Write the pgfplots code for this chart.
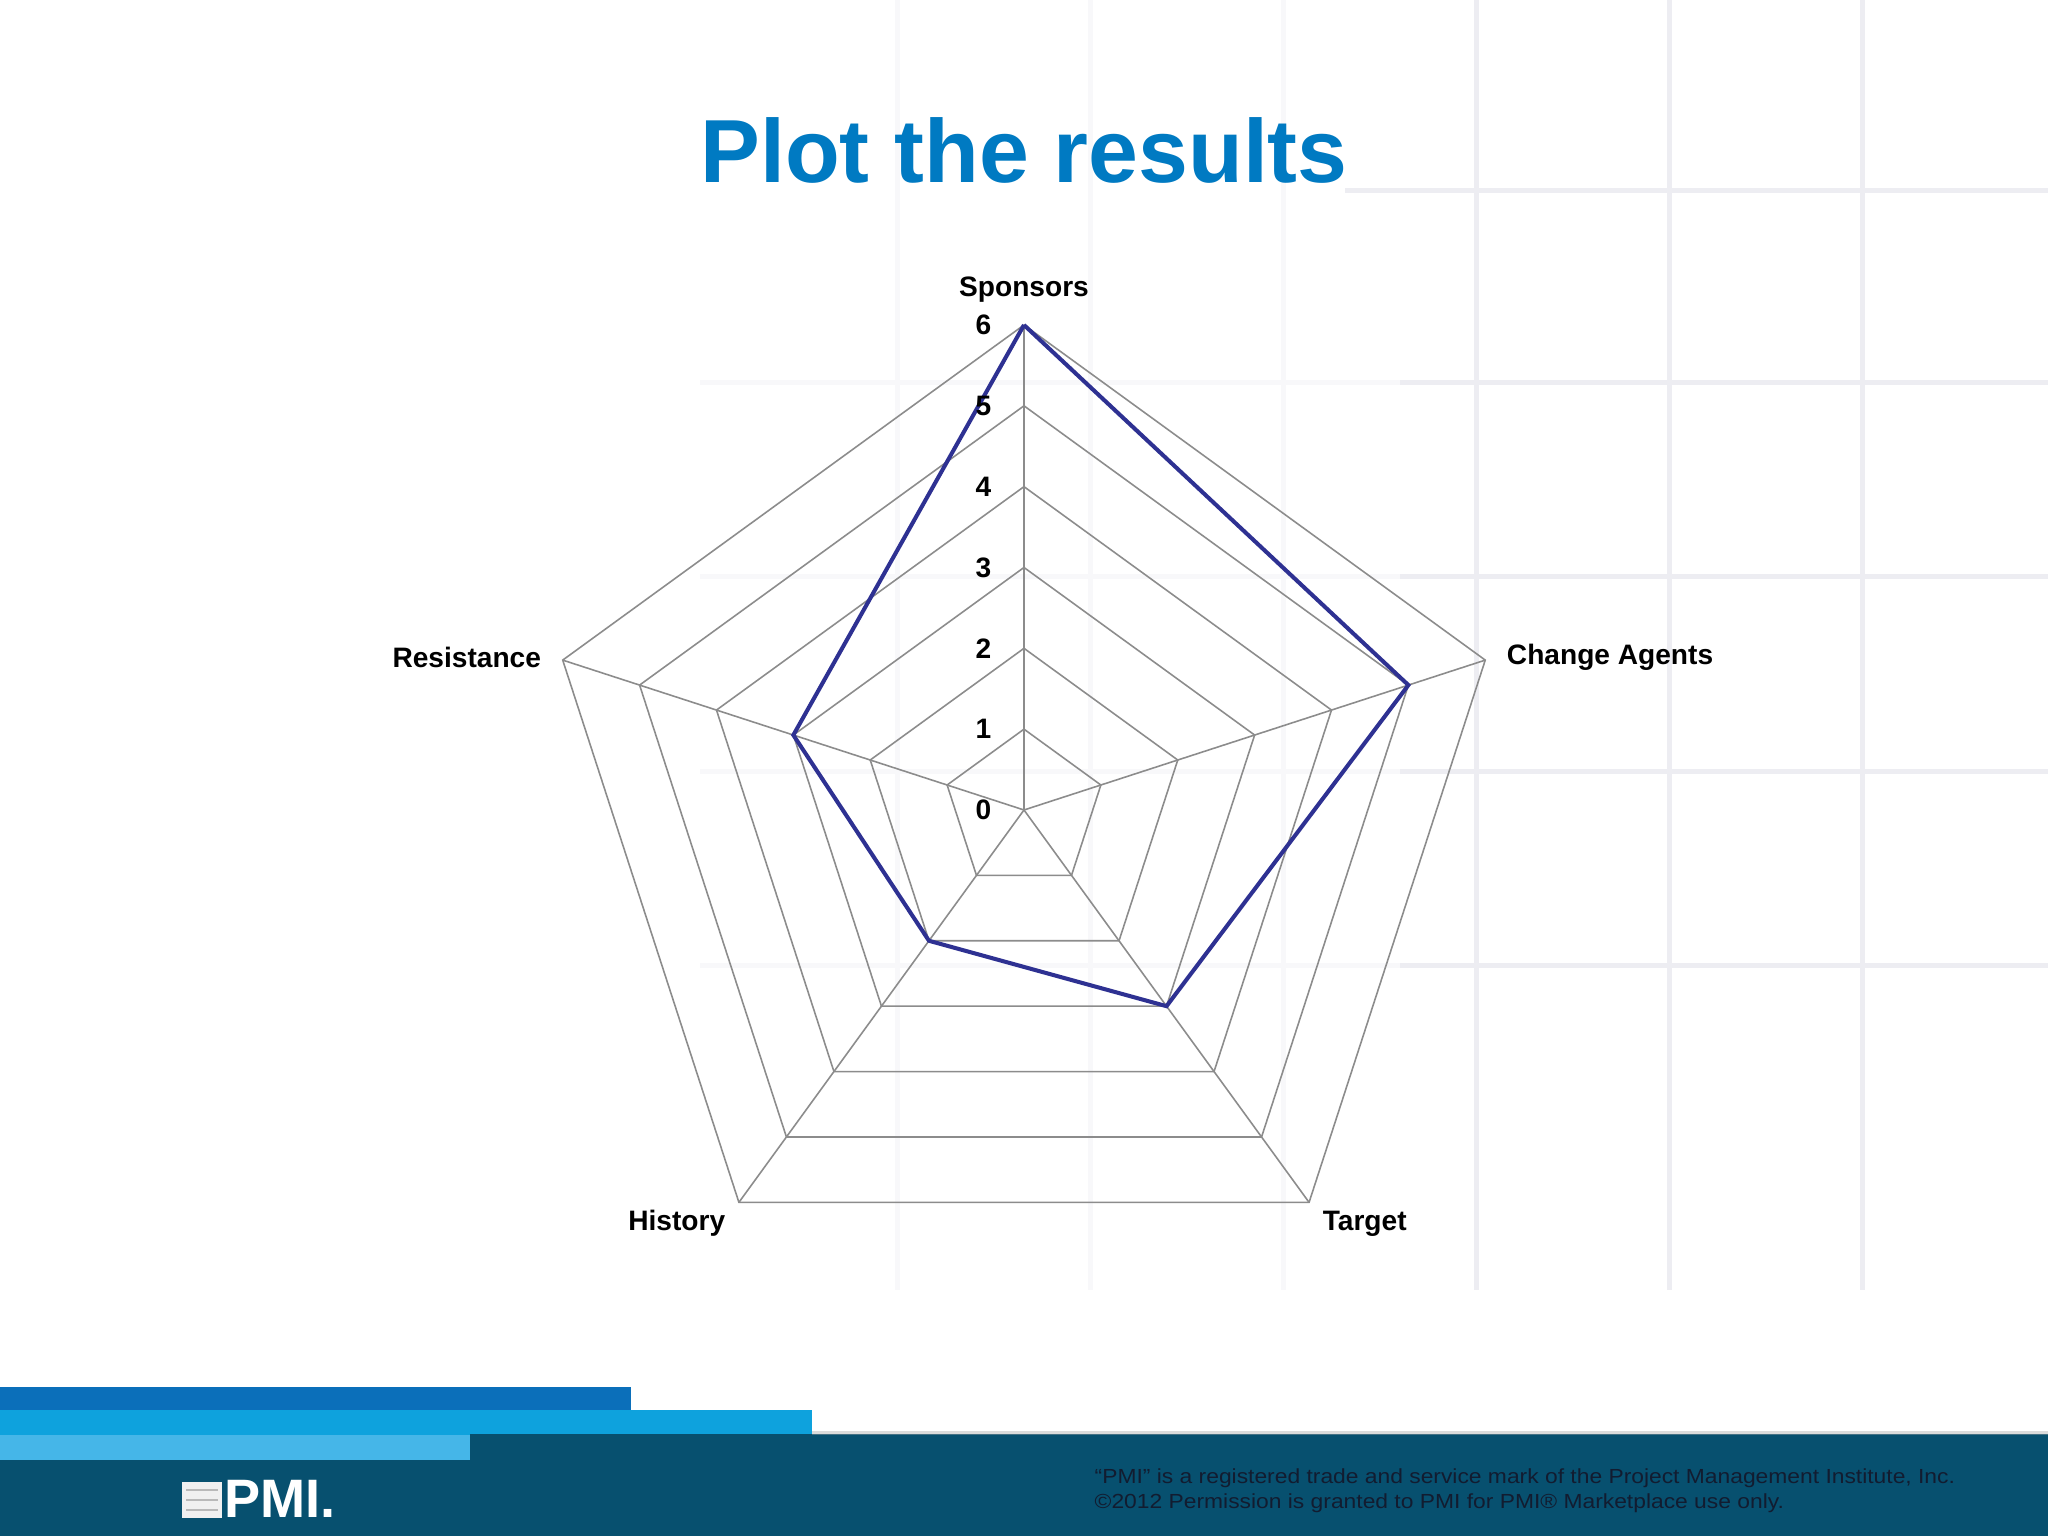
\documentclass[border=0pt]{standalone}
\usepackage{fontspec}
\setmainfont{Liberation Sans}
\usepackage{pgfplots}
\pgfplotsset{compat=1.18}
\usepgfplotslibrary{polar}
\definecolor{titleblue}{RGB}{0,122,194}
\definecolor{gridgray}{RGB}{140,140,140}
\definecolor{series}{RGB}{46,49,146}
\definecolor{band1}{RGB}{11,111,186}
\definecolor{band2}{RGB}{14,162,221}
\definecolor{band3}{RGB}{69,182,232}
\definecolor{footteal}{RGB}{7,80,111}
\definecolor{foottext}{RGB}{18,28,48}
\definecolor{bgA}{RGB}{237,237,242}
\definecolor{bgB}{RGB}{248,248,250}
\newcommand{\lab}{\fontsize{8pt}{9.6pt}\selectfont\bfseries}
\begin{document}
\begin{tikzpicture}
\path[use as bounding box] (0,0) rectangle (204.8mm,153.6mm);
\begin{scope}[shift={(0,153.6mm)}, x=0.1mm, y=-0.1mm]
  \fill[white] (0,0) rectangle (2048,1536);
  % faint background grid
  \foreach \x in {1476,1669,1862} \draw[bgA, line width=0.5mm] (\x,0) -- (\x,1290);
  \foreach \x in {897,1090,1283} \draw[bgB, line width=0.5mm] (\x,0) -- (\x,1290);
  \foreach \y in {383,577,772,966} {
    \draw[bgB, line width=0.5mm] (700,\y) -- (1400,\y);
    \draw[bgA, line width=0.5mm] (1400,\y) -- (2048,\y);
  }
  \draw[bgA, line width=0.5mm] (1345,191) -- (2048,191);
  % title
  \node[anchor=base, text=titleblue, font=\fontsize{25.5pt}{30pt}\selectfont\bfseries, inner sep=0] at (1024,183) {Plot the results};
  % footer
  \fill[band1] (0,1387) rectangle (631,1411);
  \fill[band2] (0,1410) rectangle (812,1436);
  \fill[band3] (0,1435) rectangle (470,1461);
  \fill[footteal] (470,1434) rectangle (2048,1536);
  \fill[footteal] (0,1460) rectangle (470,1536);
  \fill[black!35, opacity=0.4] (812,1431) rectangle (2048,1435);
  % logo
  \fill[white!88!gray] (182,1482) rectangle (222,1518);
  \draw[gray!55, line width=0.15mm] (186,1490) -- (218,1490) (186,1500) -- (218,1500) (186,1510) -- (218,1510);
  \node[anchor=base west, text=white, font=\fontsize{15.4pt}{18pt}\selectfont\bfseries, inner sep=0] at (224,1518) {PMI.};
  % footer text
  \node[anchor=base west, text=foottext, inner sep=0] at (1094,1484) {\scalebox{1.12}[1]{\fontsize{5.8pt}{7pt}\selectfont “PMI” is a registered trade and service mark of the Project Management Institute, Inc.}};
  \node[anchor=base west, text=foottext, inner sep=0] at (1094,1509) {\scalebox{1.12}[1]{\fontsize{5.8pt}{7pt}\selectfont ©2012 Permission is granted to PMI for PMI® Marketplace use only.}};
\end{scope}
\begin{polaraxis}[
  at={(102.4mm,72.6mm)}, anchor=center,
  scale only axis, width=97mm, height=97mm,
  xmin=0, xmax=360, ymin=0, ymax=6,
  hide axis, clip=false,
]
% spokes
\addplot[gridgray, line width=0.45pt] coordinates {(90,0) (90,6)};
\addplot[gridgray, line width=0.45pt] coordinates {(18,0) (18,6)};
\addplot[gridgray, line width=0.45pt] coordinates {(306,0) (306,6)};
\addplot[gridgray, line width=0.45pt] coordinates {(234,0) (234,6)};
\addplot[gridgray, line width=0.45pt] coordinates {(162,0) (162,6)};
% rings
\addplot[gridgray, line width=0.45pt] coordinates {(90,1) (18,1) (306,1) (234,1) (162,1) (90,1)};
\addplot[gridgray, line width=0.45pt] coordinates {(90,2) (18,2) (306,2) (234,2) (162,2) (90,2)};
\addplot[gridgray, line width=0.45pt] coordinates {(90,3) (18,3) (306,3) (234,3) (162,3) (90,3)};
\addplot[gridgray, line width=0.45pt] coordinates {(90,4) (18,4) (306,4) (234,4) (162,4) (90,4)};
\addplot[gridgray, line width=0.45pt] coordinates {(90,5) (18,5) (306,5) (234,5) (162,5) (90,5)};
\addplot[gridgray, line width=0.45pt] coordinates {(90,6) (18,6) (306,6) (234,6) (162,6) (90,6)};
% data: Sponsors, Change Agents, Target, History, Resistance
\addplot[series, line width=1.15pt, line join=miter] coordinates {(90,6) (18,5) (306,3) (234,2) (162,3) (90,6)};
% tick labels
\pgfplotsinvokeforeach{0,...,6}{
  \node[anchor=east, font=\lab, inner sep=0, xshift=-3.2mm] at (axis cs:90,#1) {#1};
}
% category labels
\node[anchor=base, font=\lab, inner sep=0, yshift=2.8mm] at (axis cs:90,6) {Sponsors};
\node[anchor=west, font=\lab, inner sep=0, xshift=2.1mm, yshift=0.3mm] at (axis cs:18,6) {Change Agents};
\node[anchor=west, font=\lab, inner sep=0, xshift=1.3mm, yshift=-2.1mm] at (axis cs:306,6) {Target};
\node[anchor=east, font=\lab, inner sep=0, xshift=-1.3mm, yshift=-2.1mm] at (axis cs:234,6) {History};
\node[anchor=east, font=\lab, inner sep=0, xshift=-2.1mm, yshift=0.3mm] at (axis cs:162,6) {Resistance};
\end{polaraxis}
\end{tikzpicture}
\end{document}
